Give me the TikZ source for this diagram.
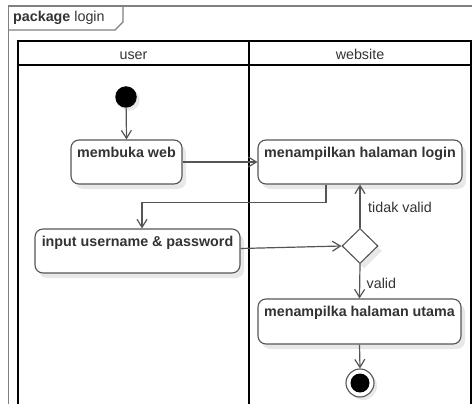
\documentclass[tikz,border=0pt]{standalone}
\usepackage{fontspec}
\setmainfont{Liberation Sans}
\usetikzlibrary{arrows.meta,shadows,shapes.geometric}
\definecolor{txt}{HTML}{333333}
\definecolor{ln}{HTML}{555555}
\definecolor{frm}{HTML}{808080}
\begin{document}
\begin{tikzpicture}[x=1pt,y=-1pt,
  fnt/.style={font=\fontsize{14.3}{16}\selectfont, text=txt},
  shd/.style={drop shadow={shadow xshift=4pt,shadow yshift=-5pt,fill=black!9,opacity=1}},
  act/.style={draw=ln, line width=1.1pt, rounded corners=8pt, fill=white,
    minimum height=44pt, inner sep=0pt, shd},
  acttxt/.style={fnt, font=\fontsize{14.3}{16}\selectfont\bfseries, anchor=base, yshift=-18.5pt, inner sep=0pt},
  flow/.style={draw=ln, line width=1.2pt, -{Straight Barb[length=8pt,width=10pt,line width=1.2pt]}},
  lane/.style={draw=black, line width=1.8pt},
]
\useasboundingbox (0,0) rectangle (472,404);
% package frame
\draw[frm, line width=1.2pt] (8.5,410) -- (8.5,6) -- (480,6);
\draw[frm, line width=1.2pt] (8.5,30) -- (115,30) -- (123,22) -- (123,6);
\node[fnt, anchor=base west, inner sep=0pt] (pkg) at (13,22) {\textbf{package} login};
% swimlanes
\draw[lane] (18,420) -- (18,41) -- (471,41) -- (471,420);
\draw[lane] (18,65) -- (471,65);
\draw[lane] (249,41) -- (249,420);
\node[fnt, anchor=base, inner sep=0pt] (luser) at (133.5,60) {user};
\node[fnt, anchor=base, inner sep=0pt] (lweb) at (360,60) {website};
% nodes
\node[circle, fill=black, minimum size=21.5pt, inner sep=0pt,
  drop shadow={shadow xshift=3pt,shadow yshift=-3pt,fill=black!9,opacity=1}] (init) at (126,97) {};
\node[act, minimum width=111pt, label={[acttxt]north:membuka web}] (web) at (126.5,162) {};
\node[act, minimum width=204pt, label={[acttxt]north:menampilkan halaman login}] (login) at (360,162) {};
\node[act, minimum width=205pt, label={[acttxt]north:input username \& password}] (input) at (137.5,251) {};
\node[diamond, draw=ln, line width=1.1pt, fill=white, minimum width=36pt, minimum height=35pt, inner sep=0pt, shd] (dia) at (360,246) {};
\node[act, minimum width=203pt, minimum height=45pt, label={[acttxt]north:menampilka halaman utama}] (utama) at (359.5,321.5) {};
\node[circle, draw=ln, line width=1.1pt, fill=white, minimum size=28pt, inner sep=0pt,
  drop shadow={shadow xshift=3pt,shadow yshift=-3pt,fill=black!9,opacity=1}] (final) at (360,383) {};
\node[circle, fill=black, minimum size=19pt, inner sep=0pt] (finalin) at (final) {};
% connectors
\draw[flow] (init) -- (web.north);
\draw[flow] (web.east) -- (login.west);
\draw[flow] ([xshift=-34pt]login.south) -- ++(0,18) -| ([xshift=4.5pt]input.north);
\draw[flow] ([yshift=2.5pt]input.east) -- (dia.west);
\draw[flow] (dia.north) -- (login.south);
\draw[flow] (dia.south) -- (utama.north);
\draw[flow] (utama.south) -- (final.north);
% labels
\node[fnt, anchor=base west, inner sep=0pt] (ltv) at (368,212) {tidak valid};
\node[fnt, anchor=base west, inner sep=0pt] (lv) at (366.5,288) {valid};
\end{tikzpicture}
\end{document}
